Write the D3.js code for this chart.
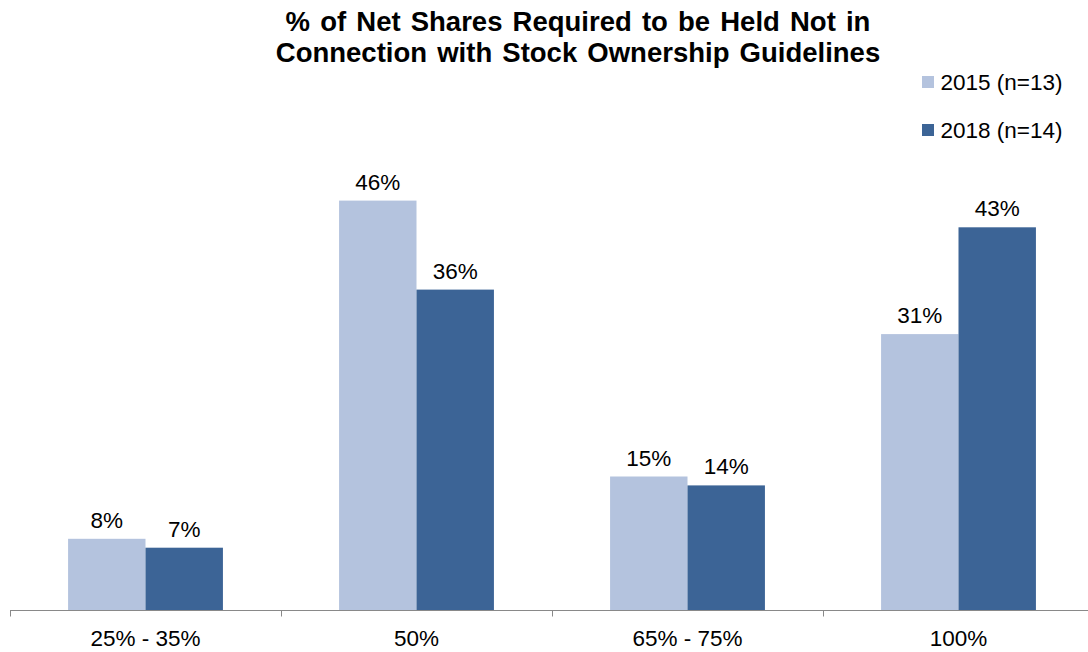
<!DOCTYPE html>
<html>
<head>
<meta charset="utf-8">
<script src="https://cdn.jsdelivr.net/npm/d3@7"></script>
<style>
  html, body { margin: 0; padding: 0; background: #fff; }
  svg { display: block; font-family: "Liberation Sans", Arial, sans-serif; }
</style>
</head>
<body>
<svg id="chart" width="1088" height="652"></svg>
<script>
// Share of companies by % of net shares to be held (outside ownership guidelines)
const categories = ["25% - 35%", "50%", "65% - 75%", "100%"];
const seriesNames = ["2015 (n=13)", "2018 (n=14)"];
const values2015 = [8, 46, 15, 31];
const values2018 = [7, 36, 14, 43];
const seriesValues = [values2015, values2018];
const colors = ["#b4c3de", "#3c6496"];
const titleLines = ["% of Net Shares Required to be Held Not in",
                    "Connection with Stock Ownership Guidelines"];

const svg = d3.select("#chart");
const W = 1088, H = 652;
const margin = { left: 10, right: -6, top: 0, bottom: 42 };
const baseline = H - margin.bottom;

const x0 = d3.scaleBand()
  .domain(categories)
  .range([margin.left, W - margin.right])
  .padding(0);

const x1 = d3.scaleBand()
  .domain(d3.range(seriesNames.length))
  .range([0, x0.bandwidth()])
  .paddingInner(0)
  .paddingOuter(0.75);

const y = d3.scaleLinear()
  .domain([0, 50])
  .range([baseline, baseline - 445]);

// Title
svg.append("g")
  .selectAll("text")
  .data(titleLines)
  .join("text")
  .attr("x", 578)
  .attr("y", (d, i) => 30.5 + i * 31)
  .attr("text-anchor", "middle")
  .attr("font-size", 27.5)
  .attr("font-weight", "bold")
  .attr("word-spacing", 2.5)
  .attr("fill", "#000")
  .text(d => d);

// Bars
const groups = svg.append("g")
  .selectAll("g")
  .data(categories)
  .join("g")
  .attr("transform", d => `translate(${x0(d)},0)`);

groups.selectAll("rect")
  .data((d, ci) => seriesValues.map((vals, si) => ({ si, v: vals[ci] })))
  .join("rect")
  .attr("x", d => x1(d.si))
  .attr("width", x1.bandwidth())
  .attr("y", d => y(d.v))
  .attr("height", d => baseline - y(d.v))
  .attr("fill", d => colors[d.si]);

// Value labels
groups.selectAll("text")
  .data((d, ci) => seriesValues.map((vals, si) => ({ si, v: vals[ci] })))
  .join("text")
  .attr("x", d => x1(d.si) + x1.bandwidth() / 2)
  .attr("y", d => y(d.v) - 11)
  .attr("text-anchor", "middle")
  .attr("font-size", 22.5)
  .attr("fill", "#000")
  .text(d => d.v + "%");

// Category axis
const axis = svg.append("g")
  .attr("transform", `translate(0,${baseline + 0.5})`);

axis.append("line")
  .attr("x1", margin.left)
  .attr("x2", W)
  .attr("stroke", "#898989")
  .attr("stroke-width", 1);

const tickPositions = categories.map(c => x0(c)).concat([x0.range()[1]]);
axis.selectAll("line.tick")
  .data(tickPositions)
  .join("line")
  .attr("class", "tick")
  .attr("x1", d => Math.round(d) + 0.5)
  .attr("x2", d => Math.round(d) + 0.5)
  .attr("y1", 0)
  .attr("y2", 6)
  .attr("stroke", "#898989");

axis.selectAll("text")
  .data(categories)
  .join("text")
  .attr("x", d => x0(d) + x0.bandwidth() / 2)
  .attr("y", 35.5)
  .attr("text-anchor", "middle")
  .attr("font-size", 22.5)
  .attr("fill", "#000")
  .text(d => d);

// Legend
const legend = svg.append("g")
  .selectAll("g")
  .data(seriesNames)
  .join("g")
  .attr("transform", (d, i) => `translate(922,${76 + i * 48})`);

legend.append("rect")
  .attr("width", 12)
  .attr("height", 12)
  .attr("fill", (d, i) => colors[i]);

legend.append("text")
  .attr("x", 18.5)
  .attr("y", 14)
  .attr("font-size", 22.5)
  .attr("fill", "#000")
  .text(d => d);
</script>
</body>
</html>
